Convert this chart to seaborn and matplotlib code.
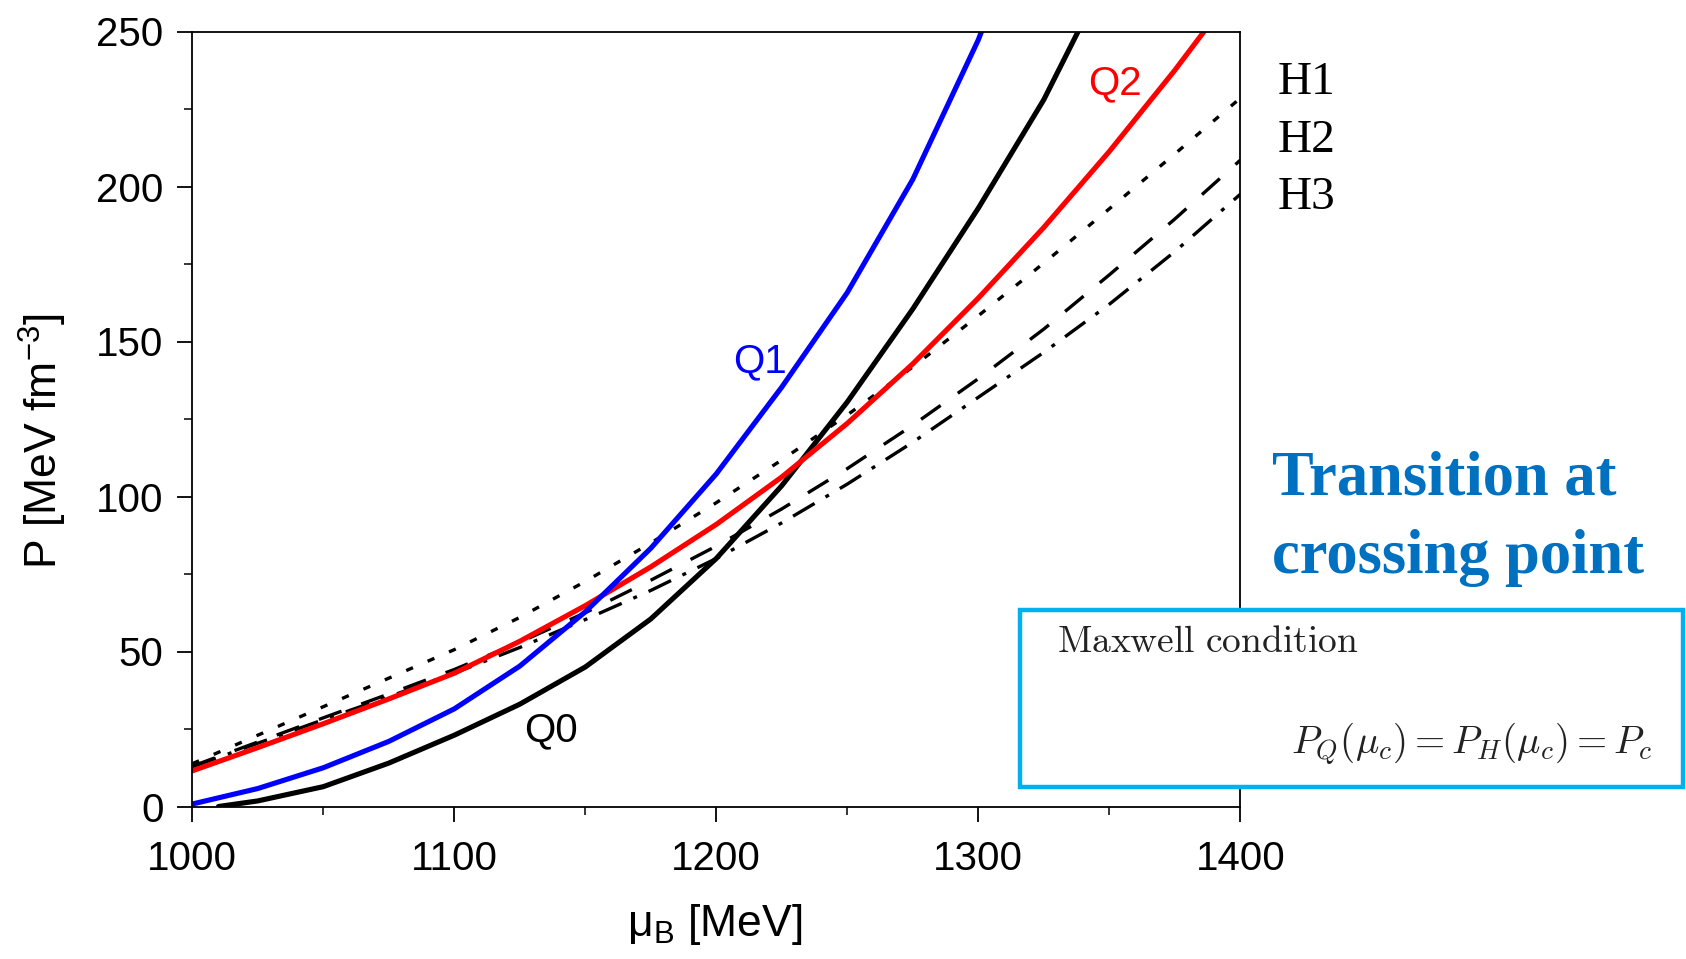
import matplotlib
matplotlib.use("Agg")
import numpy as np
import pandas as pd
import seaborn as sns
import matplotlib.pyplot as plt
from matplotlib.patches import Rectangle
from matplotlib.ticker import MultipleLocator

# ---------------- data ----------------
mu_grid = [1000, 1025, 1050, 1075, 1100, 1125, 1150, 1175, 1200,
           1225, 1250, 1275, 1300, 1325, 1350, 1375, 1400]

q1_mu = [1000, 1025, 1050, 1075, 1100, 1125, 1150, 1175, 1200, 1225, 1250, 1275, 1300, 1325]
q1_p = [0.8, 5.8, 12.5, 21, 31.5, 45.3, 62.8, 83.3, 107.3, 135.3, 165.8, 202.3, 247.3, 302.3]

q0_mu = [1010, 1025, 1050, 1075, 1100, 1125, 1150, 1175, 1200, 1225, 1250, 1275, 1300, 1325, 1350]
q0_p = [0, 1.8, 6.4, 14, 23, 33, 45, 60.5, 80, 103.5, 130.5, 160.5, 193, 228, 270]

q2_p = [11.5, 19, 26.7, 34.7, 43, 53.3, 64.8, 77.3, 91, 106.3, 123.6, 142.8, 164, 186.8, 211.3, 237.5, 265.5]
h1_p = [13.8, 23, 32.2, 41.4, 50.6, 61, 72.6, 85, 98, 111.8, 126.3, 141.8, 158.3, 175.3, 192.8, 210.5, 228.5]
h2_p = [13, 20.8, 28.6, 36.3, 44.2, 53, 62.5, 73, 84, 96, 109, 123, 138, 154, 171.5, 189.5, 208.5]
h3_p = [12.8, 20.4, 28, 35.4, 43, 51.3, 60.3, 69.7, 80, 91.5, 104, 117.5, 132, 146.5, 162, 179, 197.5]

curve_labels = ["Q0", "Q1", "Q2"]
h_labels = ["H1", "H2", "H3"]
x_ticks = [1000, 1100, 1200, 1300, 1400]
y_ticks = [0, 50, 100, 150, 200, 250]

# ---------------- style ----------------
sns.set_theme(style="ticks")
plt.rcParams["font.family"] = ["Liberation Sans", "DejaVu Sans"]
plt.rcParams["axes.linewidth"] = 1.3

fig = plt.figure(figsize=(16.86, 9.59), dpi=100)
ax = fig.add_axes([192.3 / 1686, 1 - 806.5 / 959, 1048 / 1686, 775 / 959])


def draw(x, y, color, lw, pattern=None):
    df = pd.DataFrame({"mu": x, "P": y})
    sns.lineplot(data=df, x="mu", y="P", color=color, linewidth=lw, ax=ax,
                 sort=False, errorbar=None)
    line = ax.lines[-1]
    line.set_solid_joinstyle("round")
    if pattern is not None:
        line.set_linestyle((0, pattern))
        line.set_dash_capstyle("butt")
    return line


# hadronic curves
draw(mu_grid, h1_p, "black", 2.4, (2.2, 4.8))
draw(mu_grid, h2_p, "black", 2.4, (7.2, 6.3))
draw(mu_grid, h3_p, "black", 2.4, (7.5, 3.8, 1.2, 3.8))
# quark curves
draw(q0_mu, q0_p, "black", 3.7)
draw(mu_grid, q2_p, "#ff0000", 3.7)
draw(q1_mu, q1_p, "#0000ff", 3.7)

ax.set_xlim(1000, 1400)
ax.set_ylim(0, 250)
ax.set_xticks(x_ticks)
ax.set_yticks(y_ticks)
ax.xaxis.set_minor_locator(MultipleLocator(50))
ax.yaxis.set_minor_locator(MultipleLocator(25))
ax.tick_params(axis="both", which="major", direction="out", length=10.8, width=1.3,
               labelsize=29, colors="black")
ax.tick_params(axis="both", which="minor", direction="out", length=6, width=1.3)
ax.tick_params(axis="x", which="major", pad=13)
ax.tick_params(axis="y", which="major", pad=10)
for s in ax.spines.values():
    s.set_color("black")
    s.set_linewidth(1.3)

ax.set_ylabel("P [MeV fm$^{\\mathregular{-3}}$]", fontsize=32, color="black")
ax.yaxis.set_label_coords(-0.118, 0.4716)
ax.set_xlabel("μ$_{\\mathregular{B}}$ [MeV]", fontsize=32, color="black")
ax.xaxis.set_label_coords(0.4988, -0.1235)

# curve labels
ax.text(1136.9, 24.5, curve_labels[0], color="black", fontsize=29, ha="center", va="center")
ax.text(1216.7, 143.7, curve_labels[1], color="#0000ff", fontsize=29, ha="center", va="center")
ax.text(1352.2, 233.3, curve_labels[2], color="#ff0000", fontsize=29, ha="center", va="center")

# H labels outside the axes
for lab, yb in zip(h_labels, [94.3, 151.7, 209.1]):
    fig.text(1278 / 1686, 1 - yb / 959, lab, fontsize=34, family="Liberation Serif",
             color="black", ha="left", va="baseline")

# blue annotation
fig.text(1272 / 1686, 1 - 494 / 959, "Transition at", fontsize=45, family="Liberation Serif",
         weight="bold", color="#0070C0", ha="left", va="baseline")
fig.text(1272 / 1686, 1 - 573 / 959, "crossing point", fontsize=45, family="Liberation Serif",
         weight="bold", color="#0070C0", ha="left", va="baseline")

# Maxwell box
box = Rectangle((1020 / 1686, 1 - 787 / 959), (1683 - 1020) / 1686, 177 / 959,
                transform=fig.transFigure, facecolor="white", edgecolor="#00B0F0",
                linewidth=3.2, zorder=5)
fig.patches.append(box)
fig.text(1057 / 1686, 1 - 651.7 / 959, r"$\mathrm{Maxwell\ condition}$", fontsize=27,
         math_fontfamily="cm", color="#222222", ha="left", va="baseline", zorder=6)
fig.text(1652 / 1686, 1 - 753 / 959, r"$P_Q(\mu_c) = P_H(\mu_c) = P_c$", fontsize=28,
         math_fontfamily="cm", color="#222222", ha="right", va="baseline", zorder=6)

fig.savefig("out.png", dpi=100)
